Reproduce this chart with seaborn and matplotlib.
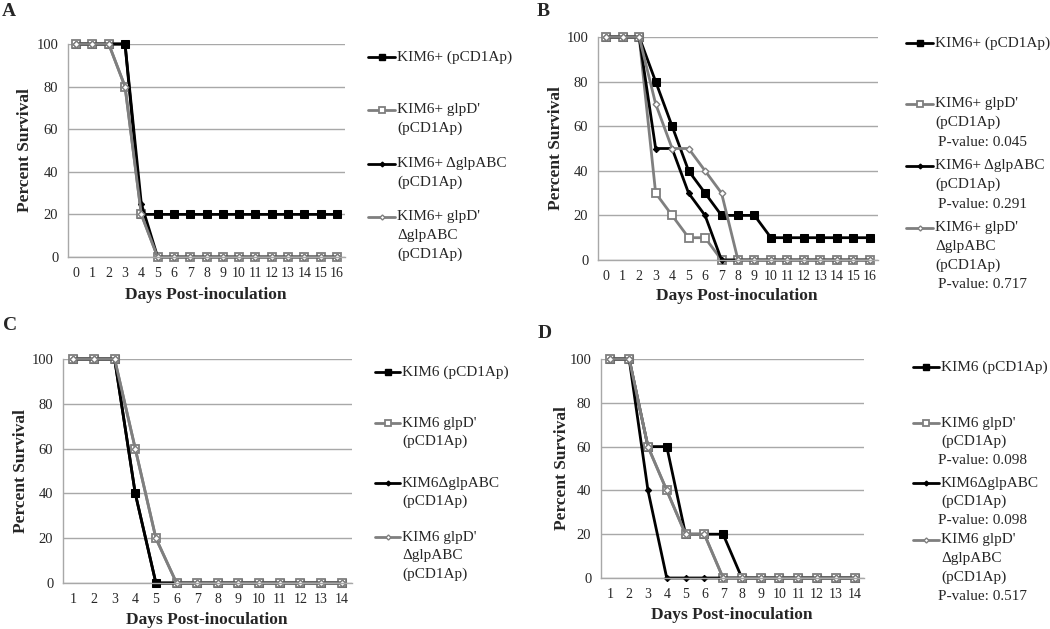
import matplotlib
matplotlib.use('Agg')
import matplotlib.pyplot as plt
from matplotlib.lines import Line2D
import seaborn as sns

W, H = 1050, 629

# ---- data ----
days_ab = [0, 1, 2, 3, 4, 5, 6, 7, 8, 9, 10, 11, 12, 13, 14, 15, 16]
days_cd = [1, 2, 3, 4, 5, 6, 7, 8, 9, 10, 11, 12, 13, 14]

a_wt     = [100, 100, 100, 100, 20, 20, 20, 20, 20, 20, 20, 20, 20, 20, 20, 20, 20]
a_glpd   = [100, 100, 100, 80, 20, 0, 0, 0, 0, 0, 0, 0, 0, 0, 0, 0, 0]
a_dglp   = [100, 100, 100, 100, 25, 0, 0, 0, 0, 0, 0, 0, 0, 0, 0, 0, 0]
a_double = [100, 100, 100, 80, 20, 0, 0, 0, 0, 0, 0, 0, 0, 0, 0, 0, 0]

b_wt     = [100, 100, 100, 80, 60, 40, 30, 20, 20, 20, 10, 10, 10, 10, 10, 10, 10]
b_glpd   = [100, 100, 100, 30, 20, 10, 10, 0, 0, 0, 0, 0, 0, 0, 0, 0, 0]
b_dglp   = [100, 100, 100, 50, 50, 30, 20, 0, 0, 0, 0, 0, 0, 0, 0, 0, 0]
b_double = [100, 100, 100, 70, 50, 50, 40, 30, 0, 0, 0, 0, 0, 0, 0, 0, 0]

c_wt     = [100, 100, 100, 40, 0, 0, 0, 0, 0, 0, 0, 0, 0, 0]
c_glpd   = [100, 100, 100, 60, 20, 0, 0, 0, 0, 0, 0, 0, 0, 0]
c_dglp   = [100, 100, 100, 40, 0, 0, 0, 0, 0, 0, 0, 0, 0, 0]
c_double = [100, 100, 100, 60, 20, 0, 0, 0, 0, 0, 0, 0, 0, 0]

d_wt     = [100, 100, 60, 60, 20, 20, 20, 0, 0, 0, 0, 0, 0, 0]
d_glpd   = [100, 100, 60, 40, 20, 20, 0, 0, 0, 0, 0, 0, 0, 0]
d_dglp   = [100, 100, 40, 0, 0, 0, 0, 0, 0, 0, 0, 0, 0, 0]
d_double = [100, 100, 60, 40, 20, 20, 0, 0, 0, 0, 0, 0, 0, 0]

labels_plus = [["KIM6+ (pCD1Ap)"], ["KIM6+ glpD'", "(pCD1Ap)"],
               ["KIM6+ \u0394glpABC", "(pCD1Ap)"], ["KIM6+ glpD'", "\u0394glpABC", "(pCD1Ap)"]]
labels_kim6 = [["KIM6 (pCD1Ap)"], ["KIM6 glpD'", "(pCD1Ap)"],
               ["KIM6\u0394glpABC", "(pCD1Ap)"], ["KIM6 glpD'", "\u0394glpABC", "(pCD1Ap)"]]
pvals_b = [None, "0.045", "0.291", "0.717"]
pvals_d = [None, "0.098", "0.098", "0.517"]

GRAY = '#7f7f7f'
GRID = '#a8a8a8'
series_style = [
    dict(color='black', marker='s', markersize=5.2, markerfacecolor='black', markeredgecolor='black', linewidth=2.0),
    dict(color=GRAY, marker='s', markersize=5.4, markerfacecolor='white', markeredgecolor=GRAY, markeredgewidth=1.3, linewidth=2.0),
    dict(color='black', marker='D', markersize=3.2, markerfacecolor='black', markeredgecolor='black', linewidth=2.0),
    dict(color=GRAY, marker='D', markersize=3.4, markerfacecolor='white', markeredgecolor=GRAY, markeredgewidth=1.0, linewidth=2.0),
]

sns.set_style('white')
plt.rcParams['font.family'] = ['Liberation Serif', 'DejaVu Serif']

fig = plt.figure(figsize=(W / 100, H / 100), dpi=100)


def fx(x):
    return x / W


def fy(y):
    return 1 - y / H


def panel(letter, rect, days, series, label_pos, legend):
    l, t, r, b = rect
    ax = fig.add_axes([fx(l), fy(b), fx(r - l), (b - t) / H])
    for vals, st in zip(series, series_style):
        sns.lineplot(x=days, y=vals, ax=ax, legend=False, clip_on=False, **st)
    ax.set_xlim(days[0] - 0.5, days[-1] + 0.5)
    ax.set_ylim(0, 100)
    ax.set_yticks([0, 20, 40, 60, 80, 100])
    ax.set_xticks(days)
    ax.set_xticks([d + 0.5 for d in days[:-1]] + [days[0] - 0.5, days[-1] + 0.5], minor=True)
    ax.tick_params(axis='x', which='major', length=0, pad=7, labelsize=10)
    ax.tick_params(axis='x', which='minor', length=5, color=GRID, width=1)
    ax.tick_params(axis='y', length=4, color=GRID, width=1, pad=3, labelsize=10.5)
    ax.yaxis.grid(True, color=GRID, linewidth=1)
    ax.set_axisbelow(True)
    for s in ['top', 'right']:
        ax.spines[s].set_visible(False)
    for s in ['left', 'bottom']:
        ax.spines[s].set_color(GRID)
        ax.spines[s].set_linewidth(1)
    ax.set_xlabel('')
    ax.set_ylabel('')

    (lx, ly), (yx, yy), (xx, xy) = label_pos
    fig.text(fx(lx), fy(ly), letter, fontsize=14, fontweight='bold', ha='center', va='center')
    fig.text(fx(yx), fy(yy), 'Percent Survival', fontsize=12.5, fontweight='bold',
             rotation=90, ha='center', va='center')
    fig.text(fx(xx), fy(xy), 'Days Post-inoculation', fontsize=12.5, fontweight='bold',
             ha='center', va='center')

    # hand-placed legend entries, as in the original layout
    x0, x1, tx, px, ys, labels, pvals = legend
    for i, st in enumerate(series_style):
        y = ys[i]
        fig.add_artist(Line2D([fx(x0), fx(x1)], [fy(y), fy(y)], transform=fig.transFigure,
                              color=st['color'], linewidth=st['linewidth']))
        fig.add_artist(Line2D([fx((x0 + x1) / 2)], [fy(y)], transform=fig.transFigure,
                              linestyle='none', marker=st['marker'],
                              markersize=st['markersize'] * 0.75,
                              markerfacecolor=st['markerfacecolor'],
                              markeredgecolor=st['markeredgecolor'],
                              markeredgewidth=st.get('markeredgewidth', 1.0)))
        for j, line in enumerate(labels[i]):
            fig.text(fx(tx), fy(y + j * 18.5), line, fontsize=11, ha='left', va='center')
        if pvals is not None and pvals[i] is not None:
            fig.text(fx(px), fy(y + len(labels[i]) * 18.5 + 1), 'P-value: ' + pvals[i],
                     fontsize=11, ha='left', va='center')
    return ax


panel('A', (68, 44, 345, 257), days_ab, [a_wt, a_glpd, a_dglp, a_double],
      ((9, 12), (25, 150), (206, 295)),
      (368, 395, 397, None, [57, 110, 164, 217], labels_plus, None))
panel('B', (598, 37, 878, 260), days_ab, [b_wt, b_glpd, b_dglp, b_double],
      ((543, 11), (556, 148), (737, 296)),
      (906, 933, 935, 938, [43, 104, 166, 228], labels_plus, pvals_b))
panel('C', (63, 359, 352, 583), days_cd, [c_wt, c_glpd, c_dglp, c_double],
      ((10, 326), (21, 471), (207, 620)),
      (375, 400, 402, None, [372, 423, 483, 537], labels_kim6, None))
panel('D', (601, 359, 864, 578), days_cd, [d_wt, d_glpd, d_dglp, d_double],
      ((545, 333), (562, 468), (732, 615)),
      (913, 939, 941, 938, [367, 423, 483, 540], labels_kim6, pvals_d))

fig.savefig('out.png', dpi=100)
